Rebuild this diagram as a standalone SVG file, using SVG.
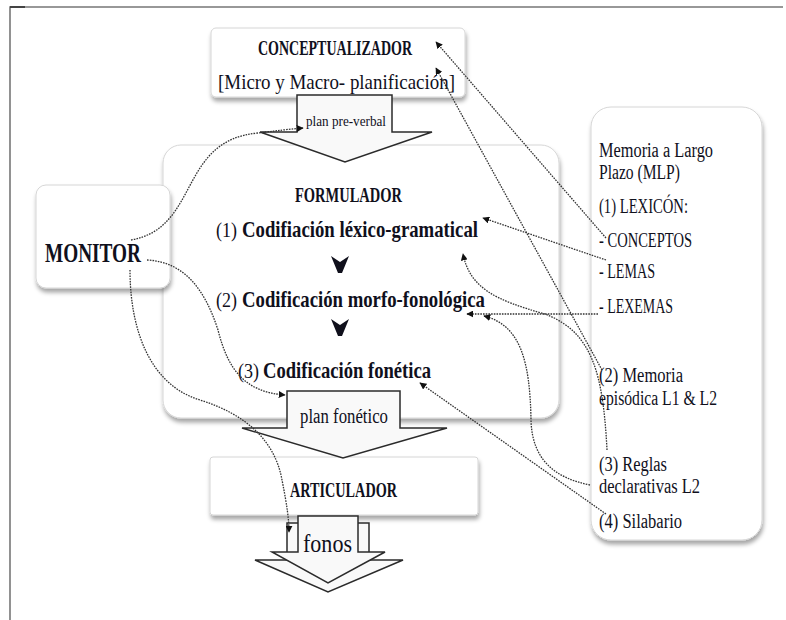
<svg xmlns="http://www.w3.org/2000/svg" width="786" height="620" viewBox="0 0 786 620">
  <style>
    .box { fill: #ffffff; stroke: #d6d6d6; stroke-width: 1; filter: url(#shadow); }
    .big { fill: #f9f9f9; stroke: #2b2b2b; stroke-width: 1.5; stroke-linejoin: miter; }
    .t { font-family: "Liberation Serif", "DejaVu Serif", serif; fill: #10101c; }
    .b { font-weight: bold; }
    .link { fill: none; stroke: #333; stroke-width: 1.3; stroke-dasharray: 1.6 1.1; marker-end: url(#tip); }
    .chev { fill: #10101c; }
  </style>
  <defs>
    <filter id="shadow" x="-10%" y="-10%" width="125%" height="130%">
      <feDropShadow dx="1" dy="4" stdDeviation="2.2" flood-color="#000" flood-opacity="0.35"/>
    </filter>
    <marker id="tip" viewBox="0 0 10 10" refX="9" refY="5" markerWidth="7" markerHeight="7" markerUnits="userSpaceOnUse" orient="auto">
      <path d="M0,0 L10,5 L0,10 z" fill="#111"/>
    </marker>
  </defs>

  <!-- page frame -->
  <g id="frame" fill="none" stroke="#777" stroke-width="1.6">
    <path d="M10,620 L10,7 L783,7"/>
    <path d="M10,7 L25,7" stroke="#444" stroke-width="2"/>
  </g>

  <!-- FORMULADOR container -->
  <g id="formulador">
    <rect class="box" x="163" y="145" width="396" height="273" rx="18"/>
    <text class="t b" x="295" y="202" font-size="21" textLength="107" lengthAdjust="spacingAndGlyphs">FORMULADOR</text>
    <text class="t" x="216" y="237" font-size="20" textLength="21" lengthAdjust="spacingAndGlyphs">(1)</text>
    <text class="t b" x="242" y="237" font-size="23" textLength="236" lengthAdjust="spacingAndGlyphs">Codifiación léxico-gramatical</text>
    <path class="chev" d="M331,256 L340,262 L349,256 L342,273 L338,273 z"/>
    <text class="t" x="216" y="307" font-size="20" textLength="21" lengthAdjust="spacingAndGlyphs">(2)</text>
    <text class="t b" x="242" y="307" font-size="23" textLength="243" lengthAdjust="spacingAndGlyphs">Codificación morfo-fonológica</text>
    <path class="chev" d="M331,319 L340,325 L349,319 L342,336 L338,336 z"/>
    <text class="t" x="238" y="378" font-size="20" textLength="21" lengthAdjust="spacingAndGlyphs">(3)</text>
    <text class="t b" x="263" y="378" font-size="23" textLength="168" lengthAdjust="spacingAndGlyphs">Codificación fonética</text>
  </g>

  <!-- CONCEPTUALIZADOR -->
  <g id="conceptualizador">
    <rect class="box" x="211" y="28" width="254" height="69" rx="5"/>
    <text class="t b" x="258" y="55" font-size="22" textLength="154" lengthAdjust="spacingAndGlyphs">CONCEPTUALIZADOR</text>
    <text class="t" x="218" y="89" font-size="21" textLength="237" lengthAdjust="spacingAndGlyphs">[Micro y Macro- planificación]</text>
  </g>

  <!-- plan pre-verbal arrow -->
  <g id="plan-preverbal">
    <path class="big" d="M297,95 L392,95 L392,132 L432,132 L345,162 L260,132 L297,132 z"/>
    <text class="t" x="306" y="126" font-size="14" textLength="80" lengthAdjust="spacingAndGlyphs">plan pre-verbal</text>
  </g>

  <!-- MONITOR -->
  <g id="monitor">
    <rect class="box" x="36" y="185" width="134" height="103" rx="10"/>
    <text class="t b" x="45" y="262" font-size="28" textLength="96" lengthAdjust="spacingAndGlyphs">MONITOR</text>
  </g>

  <!-- ARTICULADOR -->
  <g id="articulador">
    <rect class="box" x="210" y="457" width="268" height="58" rx="3"/>
    <text class="t b" x="290" y="497" font-size="20" textLength="107" lengthAdjust="spacingAndGlyphs">ARTICULADOR</text>
  </g>

  <!-- plan fonético arrow -->
  <g id="plan-fonetico">
    <path class="big" d="M287,391 L400,391 L400,428 L447,428 L343,458 L242,428 L287,428 z"/>
    <text class="t" x="300" y="423" font-size="20" textLength="88" lengthAdjust="spacingAndGlyphs">plan fonético</text>
  </g>

  <!-- fonos arrows -->
  <g id="fonos">
    <path class="big" d="M287,523 L369,523 L369,560 L403,560 L328,592 L255,560 L287,560 z"/>
    <path class="big" d="M298,516 L358,516 L358,552 L385,552 L328,583 L272,552 L298,552 z"/>
    <text class="t" x="303" y="552" font-size="25" textLength="49" lengthAdjust="spacingAndGlyphs">fonos</text>
  </g>

  <!-- Memoria a Largo Plazo -->
  <g id="mlp">
    <rect class="box" x="591" y="107" width="171" height="433" rx="20"/>
    <g class="t" font-size="20">
      <text x="599" y="157" textLength="114" lengthAdjust="spacingAndGlyphs">Memoria a Largo</text>
      <text x="599" y="179" textLength="81" lengthAdjust="spacingAndGlyphs">Plazo (MLP)</text>
      <text x="599" y="213" textLength="89" lengthAdjust="spacingAndGlyphs">(1) LEXICÓN:</text>
      <text x="599" y="247" textLength="93" lengthAdjust="spacingAndGlyphs">- CONCEPTOS</text>
      <text x="599" y="278" textLength="56" lengthAdjust="spacingAndGlyphs">- LEMAS</text>
      <text x="599" y="313" textLength="74" lengthAdjust="spacingAndGlyphs">- LEXEMAS</text>
      <text x="599" y="382" textLength="84" lengthAdjust="spacingAndGlyphs">(2) Memoria</text>
      <text x="599" y="405" textLength="118" lengthAdjust="spacingAndGlyphs">episódica L1 &amp; L2</text>
      <text x="599" y="471" textLength="68" lengthAdjust="spacingAndGlyphs">(3) Reglas</text>
      <text x="599" y="493" textLength="101" lengthAdjust="spacingAndGlyphs">declarativas L2</text>
      <text x="599" y="528" textLength="83" lengthAdjust="spacingAndGlyphs">(4) Silabario</text>
    </g>
  </g>

  <!-- dotted connectors -->
  <g id="connectors">
    <path class="link" d="M606,238 L436,42"/>
    <path class="link" d="M602,370 L436,68"/>
    <path class="link" d="M606,260 L483,218"/>
    <path class="link" d="M598,314 L467,314"/>
    <path class="link" d="M590,485 C 555,478 532,460 531,420 C 530,360 520,325 484,316"/>
    <path class="link" d="M607,450 C 603,372 592,332 545,314 C 495,300 470,288 463,254"/>
    <path class="link" d="M606,514 L420,383"/>
    <path class="link" d="M131,240 C 200,228 178,140 258,133 C 275,131 290,129 303,128"/>
    <path class="link" d="M147,260 C 185,262 205,290 218,330 C 228,370 245,392 285,395"/>
    <path class="link" d="M130,270 C 130,330 150,385 200,400 C 245,414 275,440 282,480 C 287,505 289,520 289,532"/>
  </g>
</svg>
